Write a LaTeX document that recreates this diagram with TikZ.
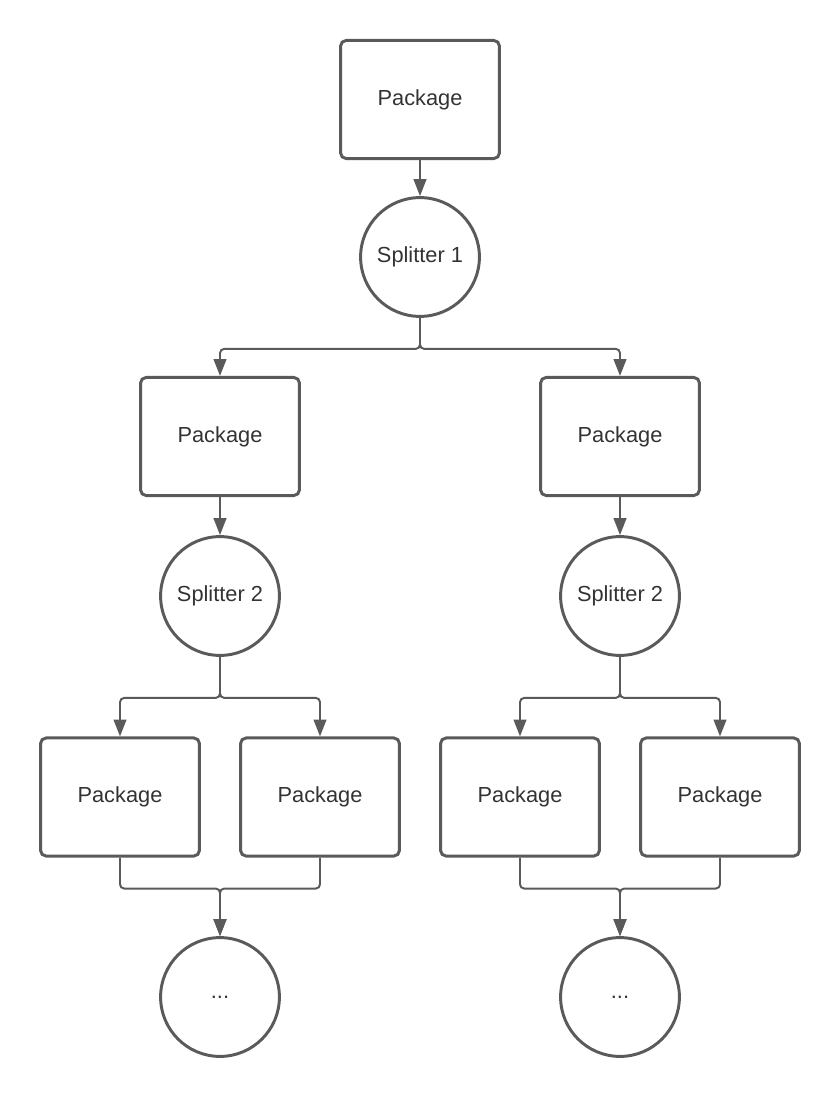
\documentclass[tikz,border=0pt]{standalone}
\usepackage{fontspec}
\setmainfont{Liberation Sans}
\usetikzlibrary{arrows.meta}
\definecolor{linegray}{HTML}{5A5A5A}
\definecolor{textgray}{HTML}{333333}
\tikzset{
  pkg/.style={draw=linegray, line width=2.1pt, rounded corners=4pt, minimum width=113pt, minimum height=84pt, inner sep=0pt, text=textgray, font=\fontsize{15.5}{18}\selectfont},
  splitter/.style={draw=linegray, line width=2.1pt, circle, minimum size=84.5pt, inner sep=0pt, text=textgray, font=\fontsize{15.5}{18}\selectfont},
  link/.style={draw=linegray, line width=1.4pt, rounded corners=3pt, -{Triangle[length=12pt, width=9pt]}}
}
\begin{document}
\begin{tikzpicture}[x=0.025cm, y=-0.025cm]
\useasboundingbox (0,0) rectangle (840,1097);

\node[pkg] (top) at (420,99.5) {Package};
\node[splitter] (sa) at (420,257) {Splitter 1};

\node[pkg] (pl) at (220,436.5) {Package};
\node[pkg] (pr) at (620,436.5) {Package};
\node[splitter] (sl) at (220,596) {Splitter 2};
\node[splitter] (sr) at (620,596) {Splitter 2};

\node[pkg] (pll) at (120,797) {Package};
\node[pkg] (plr) at (320,797) {Package};
\node[pkg] (prl) at (520,797) {Package};
\node[pkg] (prr) at (720,797) {Package};

\node[splitter] (el) at (220,997) {...};
\node[splitter] (er) at (620,997) {...};

% splits
\draw[link] (top) -- (sa);
\draw[link] (sa.south) -- ++(0,31) -| (pl.north);
\draw[link] (sa.south) -- ++(0,31) -| (pr.north);
\draw[link] (pl) -- (sl);
\draw[link] (pr) -- (sr);
\draw[link] (sl.south) -- ++(0,41) -| (pll.north);
\draw[link] (sl.south) -- ++(0,41) -| (plr.north);
\draw[link] (sr.south) -- ++(0,41) -| (prl.north);
\draw[link] (sr.south) -- ++(0,41) -| (prr.north);

% merges
\draw[link] (pll.south) |- ++(100,31) -- (el.north);
\draw[link] (plr.south) |- ++(-100,31) -- (el.north);
\draw[link] (prl.south) |- ++(100,31) -- (er.north);
\draw[link] (prr.south) |- ++(-100,31) -- (er.north);
\end{tikzpicture}
\end{document}
